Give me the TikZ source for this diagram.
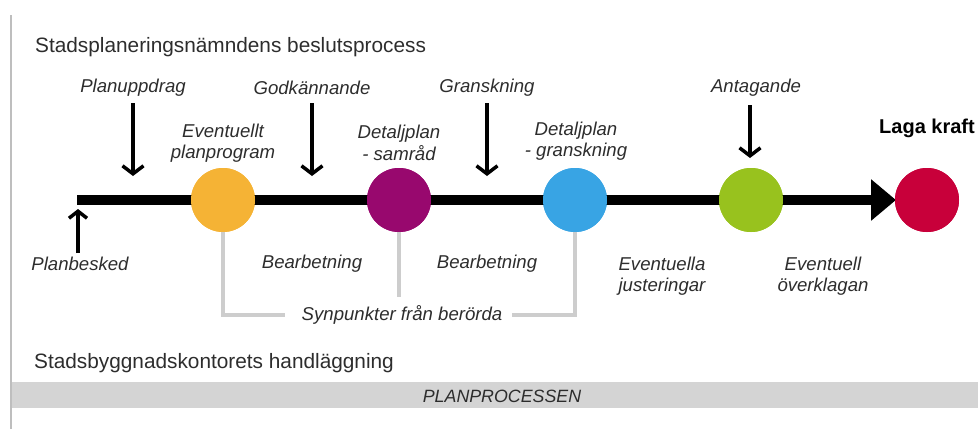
\documentclass[tikz,border=0pt]{standalone}
\usepackage{fontspec}
\setmainfont{Liberation Sans}
\usetikzlibrary{arrows.meta}
\definecolor{txt}{RGB}{45,45,45}
\definecolor{band}{RGB}{212,212,212}
\definecolor{conn}{RGB}{205,205,205}
\definecolor{sideline}{RGB}{190,190,190}
\definecolor{corange}{RGB}{245,179,53}
\definecolor{cpurple}{RGB}{152,8,110}
\definecolor{cblue}{RGB}{56,164,228}
\definecolor{cgreen}{RGB}{152,194,30}
\definecolor{cred}{RGB}{200,0,58}
\begin{document}
\begin{tikzpicture}[x=1pt,y=-1pt,
  lbl/.style={font=\fontsize{18.6}{21.5}\selectfont\itshape, text=txt, align=center, inner sep=0pt},
  head/.style={font=\fontsize{20.8}{24}\selectfont, text=txt, anchor=west, inner sep=0pt},
  milestone/.style={circle, minimum size=64pt, inner sep=0pt, draw=none},
  darr/.style={line width=3.5pt, -{Straight Barb[length=8pt,width=21pt,line width=3.5pt]}},
  conline/.style={draw=conn, line width=4.5pt}]
\useasboundingbox (0,0) rectangle (978,429);
% side line and band
\draw[sideline, line width=1.5pt] (11,15) -- (11,429);
\fill[band] (12,382) rectangle (978,408);
\node[lbl, font=\fontsize{17.8}{20}\selectfont\itshape] (pp) at (502,396) {PLANPROCESSEN};
% headings
\node[head] (h1) at (35,47) {Stadsplaneringsnämndens beslutsprocess};
\node[head] (h2) at (34,363) {Stadsbyggnadskontorets handläggning};
% connectors (gray)
\coordinate (s1) at (285,315);
\coordinate (s2) at (512,315);
\coordinate (s3) at (399,297);
\node[milestone, fill=corange] (c1) at (223,200) {};
\node[milestone, fill=cpurple] (c2) at (399,200) {};
\node[milestone, fill=cblue] (c3) at (575,200) {};
\node[milestone, fill=cgreen] (c4) at (751,200) {};
\node[milestone, fill=cred] (c5) at (927,200) {};
\draw[conline] (c1.center) |- (s1);
\draw[conline] (c3.center) |- (s2);
\draw[conline] (c2.center) -- (s3);
% main line
\coordinate (mstart) at (77,200);
\coordinate (mtip) at (896,200);
\draw[line width=10pt, -{Triangle[length=25pt,width=40pt]}] (mstart) -- (mtip);
% circles on top
\node[milestone, fill=corange] at (c1) {};
\node[milestone, fill=cpurple] at (c2) {};
\node[milestone, fill=cblue] at (c3) {};
\node[milestone, fill=cgreen] at (c4) {};
\node[milestone, fill=cred] at (c5) {};
% labels above
\node[lbl] (l1) at (133,88) {Planuppdrag};
\node[lbl] (l2) at (312,88) {Godkännande};
\node[lbl] (l3) at (487,88) {Granskning};
\node[lbl] (l4) at (756,88) {Antagande};
\node[lbl] (e1) at (223,143) {Eventuellt\\planprogram};
\node[lbl] (e2) at (399,143) {Detaljplan\\- samråd};
\node[lbl] (e3) at (576,141) {Detaljplan\\- granskning};
\node[font=\fontsize{20}{24}\selectfont\bfseries, text=black, inner sep=0pt] (lk) at (927,128) {Laga kraft};
% down arrows
\coordinate (a1s) at (133,103); \coordinate (a1e) at (133,176);
\coordinate (a2s) at (312,103); \coordinate (a2e) at (312,176);
\coordinate (a3s) at (487,103); \coordinate (a3e) at (487,176);
\coordinate (a4s) at (750,105); \coordinate (a4e) at (750,158);
\draw[darr] (a1s) -- (a1e);
\draw[darr] (a2s) -- (a2e);
\draw[darr] (a3s) -- (a3e);
\draw[darr] (a4s) -- (a4e);
% up arrow
\coordinate (ups) at (78,253); \coordinate (upe) at (78,209);
\draw[line width=3.5pt, -{Straight Barb[length=7pt,width=18pt,line width=3.5pt]}] (ups) -- (upe);
% labels below
\node[lbl] (b0) at (80,264) {Planbesked};
\node[lbl] (b1) at (312,264) {Bearbetning};
\node[lbl] (b2) at (487,264) {Bearbetning};
\node[lbl] (b3) at (662,276) {Eventuella\\justeringar};
\node[lbl] (b4) at (823,276) {Eventuell\\överklagan};
\node[lbl] (syn) at (402,315) {Synpunkter från berörda};
\end{tikzpicture}
\end{document}
